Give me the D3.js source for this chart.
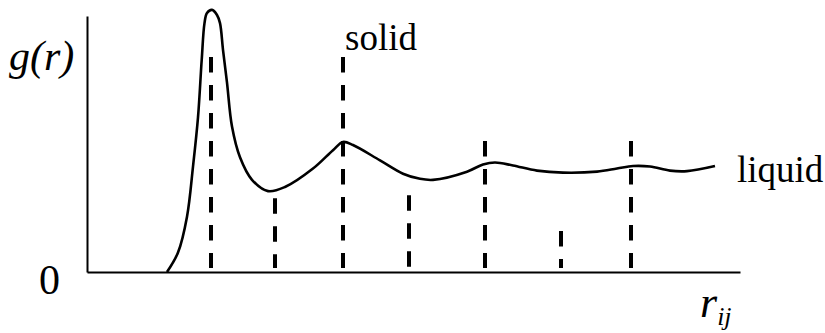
<!DOCTYPE html>
<html>
<head>
<meta charset="utf-8">
<script src="https://cdn.jsdelivr.net/npm/d3@7"></script>
<style>
  html, body { margin: 0; padding: 0; background: #fff; }
  svg { display: block; }
</style>
</head>
<body>
<svg id="chart" width="825" height="333"></svg>
<script>
// Radial distribution function of a liquid (continuous curve)
const liquidR = [0.80, 0.91, 1.00, 1.06, 1.11, 1.147, 1.175, 1.20, 1.25, 1.30, 1.33, 1.36, 1.40, 1.45, 1.53, 1.65,
  1.81, 1.98, 2.26, 2.46, 2.56, 2.66, 2.93, 3.16, 3.33, 3.46, 3.80, 3.96, 4.08, 4.26, 4.50,
  4.76, 5.10, 5.30, 5.46, 5.63, 5.83, 6.00, 6.28];
const liquidG = [0.00, 0.19, 0.54, 1.03, 1.51, 2.07, 2.43, 2.53, 2.56, 2.51, 2.43, 2.17, 1.85, 1.42, 1.12, 0.90,
  0.79, 0.83, 1.01, 1.19, 1.27, 1.24, 1.09, 0.96, 0.91, 0.90, 0.98, 1.05, 1.07, 1.04, 0.99,
  0.97, 0.98, 1.01, 1.035, 1.03, 0.99, 0.985, 1.035];

// Solid: discrete neighbour shells (dashed spikes)
const solidR = [1.24, 1.88, 2.56, 3.22, 3.98, 4.74, 5.44];
const solidG = [2.10, 0.72, 2.10, 0.75, 1.28, 0.40, 1.28];

const xMax = 6.53, yMax = 2.5;

const svg = d3.select("#chart");
const x = d3.scaleLinear().domain([0, xMax]).range([87, 740]);
const y = d3.scaleLinear().domain([0, yMax]).range([272, 16]);

// axes: plain lines, no ticks
svg.append("g")
  .attr("transform", `translate(0,${y(0)})`)
  .call(d3.axisBottom(x).tickValues([]).tickSizeOuter(0))
  .call(g => g.select(".domain").attr("stroke", "#000").attr("stroke-width", 2));
svg.append("g")
  .attr("transform", `translate(${x(0)},0)`)
  .call(d3.axisLeft(y).tickValues([]).tickSizeOuter(0))
  .call(g => g.select(".domain").attr("stroke", "#000").attr("stroke-width", 2));

// dashed spikes for the solid, drawn from the top down
const solid = solidR.map((r, i) => ({ r, g: solidG[i] }));
svg.append("g")
  .selectAll("line")
  .data(solid)
  .join("line")
  .attr("x1", d => x(d.r)).attr("x2", d => x(d.r))
  .attr("y1", d => y(d.g)).attr("y2", y(0) - 4)
  .attr("stroke", "#000")
  .attr("stroke-width", 4)
  .attr("stroke-dasharray", "15.5,12.5");

// liquid curve
const liquid = liquidR.map((r, i) => ({ r, g: liquidG[i] }));
svg.append("path")
  .datum(liquid)
  .attr("fill", "none")
  .attr("stroke", "#000")
  .attr("stroke-width", 2.6)
  .attr("stroke-linejoin", "round")
  .attr("d", d3.line().x(d => x(d.r)).y(d => y(d.g)).curve(d3.curveCatmullRom.alpha(0.5)));

// labels
const label = (tx, ty, size, italic, str) => svg.append("text")
  .attr("x", tx).attr("y", ty)
  .attr("font-family", "Liberation Serif")
  .attr("font-size", size)
  .attr("font-style", italic ? "italic" : "normal")
  .attr("fill", "#000")
  .text(str);

label(9, 70, 42, true, "g(r)");
label(39, 294, 42, false, "0");
label(345, 50, 37, false, "solid");
label(737, 182, 37, false, "liquid");

const rl = label(700, 317, 44, true, "r");
rl.append("tspan").attr("dy", 8).attr("font-size", 26).text("ij");
</script>
</body>
</html>
